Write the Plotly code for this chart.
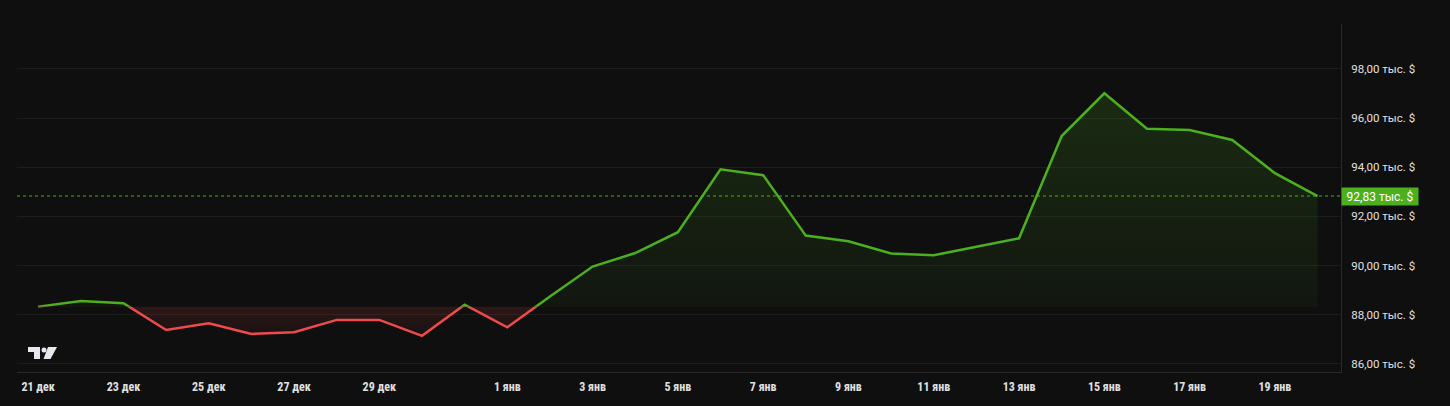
import pandas as pd
import plotly.graph_objects as go

# ---------------- data ----------------
dates = pd.date_range("2024-12-21", "2025-01-20", freq="D")
prices = [88.33, 88.56, 88.47, 87.38, 87.65, 87.22, 87.29, 87.79, 87.79, 87.14, 88.41,
          87.49, 88.74, 89.96, 90.51, 91.36, 93.92, 93.68, 91.22, 90.99, 90.49, 90.42,
          90.77, 91.11, 95.27, 97.01, 95.57, 95.52, 95.11, 93.76, 92.83]
x_tick_dates = ["2024-12-21", "2024-12-23", "2024-12-25", "2024-12-27", "2024-12-29",
                "2025-01-01", "2025-01-03", "2025-01-05", "2025-01-07", "2025-01-09",
                "2025-01-11", "2025-01-13", "2025-01-15", "2025-01-17", "2025-01-19"]
x_tick_text = ["21 дек", "23 дек", "25 дек", "27 дек", "29 дек", "1 янв", "3 янв", "5 янв",
               "7 янв", "9 янв", "11 янв", "13 янв", "15 янв", "17 янв", "19 янв"]
y_tick_vals = [86, 88, 90, 92, 94, 96, 98]


def fmt(v):
    return f"{v:.2f}".replace(".", ",") + " тыс. $"


y_tick_text = [fmt(v) for v in y_tick_vals]

# ---------------- style ----------------
BG = "#0f0f0f"
GRID = "#1d1d1d"
BORDER = "#2a2a2a"
GREEN = "#4caf1e"
RED = "#ef4b4b"
TXT = "#e0e0e0"

base = prices[0]
last = prices[-1]
ymin, ymax = 85.67, 99.83
d = (base - ymin) / (ymax - ymin)
x0 = dates[0] - pd.Timedelta(days=0.497)
x1 = dates[0] + pd.Timedelta(days=30.55)
xs = list(dates)

fig = go.Figure()
fig.add_trace(go.Scatter(x=[xs[0]], y=[base], mode="markers", marker=dict(opacity=0),
                         hoverinfo="skip", showlegend=False, xaxis="x", yaxis="y"))
fig.add_trace(go.Scatter(x=xs, y=[base] * len(xs), mode="lines", line=dict(width=0),
                         hoverinfo="skip", showlegend=False, xaxis="x", yaxis="y2"))
fig.add_trace(go.Scatter(x=xs, y=prices, mode="lines", line=dict(color=GREEN, width=2.5),
                         fill="tonexty",
                         fillgradient=dict(type="vertical",
                                           colorscale=[[0, "rgba(76,175,30,0.05)"],
                                                       [1, "rgba(76,175,30,0.22)"]],
                                           start=base, stop=ymax),
                         showlegend=False, xaxis="x", yaxis="y2"))
fig.add_trace(go.Scatter(x=xs, y=[base] * len(xs), mode="lines", line=dict(width=0),
                         hoverinfo="skip", showlegend=False, xaxis="x", yaxis="y3"))
fig.add_trace(go.Scatter(x=xs, y=prices, mode="lines", line=dict(color=RED, width=2.5),
                         fill="tonexty",
                         fillgradient=dict(type="vertical",
                                           colorscale=[[0, "rgba(239,75,75,0.0)"],
                                                       [1, "rgba(239,75,75,0.14)"]],
                                           start=ymin + 1.0, stop=base),
                         showlegend=False, xaxis="x", yaxis="y3"))

L, R, T, B = 17, 109, 24, 34
W, H = 1450, 406
PW, PH = W - L - R, H - T - B


def px(v):
    return (v - L) / PW


def py(v):
    return (H - B - v) / PH


shapes = [
    dict(type="line", xref="paper", yref="y", x0=0, x1=1, y0=last, y1=last,
         line=dict(color=GREEN, width=1, dash="dot")),
]
LOGO = "#e6e8ee"


def path(pts):
    return "M " + " L ".join(f"{px(a):.5f},{py(b):.5f}" for a, b in pts) + " Z"


shapes.append(dict(type="path", xref="paper", yref="paper", line=dict(width=0), fillcolor=LOGO,
                   path=path([(28, 347), (40, 347), (40, 359), (34, 359), (34, 352), (28, 352)])))
shapes.append(dict(type="circle", xref="paper", yref="paper", line=dict(width=0), fillcolor=LOGO,
                   x0=px(41.5), x1=px(46.5), y0=py(352.5), y1=py(347.5)))
shapes.append(dict(type="path", xref="paper", yref="paper", line=dict(width=0), fillcolor=LOGO,
                   path=path([(48, 347), (57, 347), (50.5, 359), (43.5, 359)])))

fig.update_layout(
    width=W, height=H,
    paper_bgcolor=BG, plot_bgcolor="rgba(0,0,0,0)",
    margin=dict(l=L, r=R, t=T, b=B, pad=0),
    showlegend=False,
    xaxis=dict(type="date", range=[x0, x1], anchor="y", domain=[0, 1],
               tickvals=x_tick_dates, ticktext=x_tick_text, showgrid=False, zeroline=False,
               showline=True, linecolor=BORDER, linewidth=1, ticks="",
               ticklabelstandoff=4,
               tickfont=dict(family="Liberation Sans Narrow, Roboto Condensed, Roboto",
                             size=12, color=TXT, weight="bold")),
    yaxis=dict(range=[ymin, ymax], domain=[0, 1], side="right", anchor="x",
               tickvals=y_tick_vals, ticktext=y_tick_text, showgrid=True, gridcolor=GRID,
               gridwidth=1, zeroline=False, showline=True, linecolor=BORDER, linewidth=1,
               ticks="", ticklabelstandoff=7,
               tickfont=dict(family="Roboto", size=11.5, color=TXT)),
    yaxis2=dict(range=[base, ymax], domain=[d, 1], anchor="x", visible=False),
    yaxis3=dict(range=[ymin, base], domain=[0, d], anchor="x", visible=False),
    shapes=shapes,
    annotations=[dict(xref="paper", yref="y", x=1, y=last, xanchor="left", yanchor="middle",
                      text=fmt(last), showarrow=False, bgcolor=GREEN, borderpad=1,
                      width=74, height=15, align="center", xshift=0,
                      font=dict(family="Roboto", size=12, color="#ffffff"))],
)

fig.write_html("out.html", config={"displayModeBar": False},
               post_script="document.body.style.margin='0';"
                           "document.body.style.background='#0f0f0f';")
